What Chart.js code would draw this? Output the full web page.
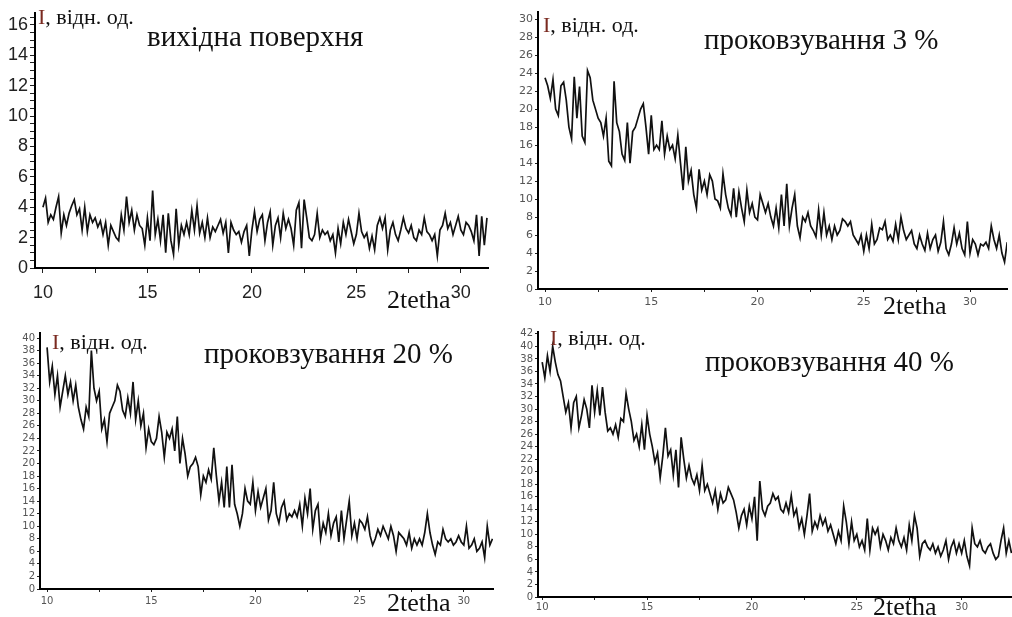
<!DOCTYPE html>
<html>
<head>
<meta charset="utf-8">
<script src="https://cdn.jsdelivr.net/npm/chart.js@4.4.1/dist/chart.umd.min.js"></script>
<style>
    body { margin: 0; background: #fff; }
    #wrap { position: relative; width: 1012px; height: 617px; overflow: hidden; background: #fff; }
    canvas { position: absolute; }
    .lbl { position: absolute; font-family: "Liberation Serif", "Times New Roman", serif; color: #111; white-space: nowrap; line-height: 1; transform: translateY(-50%); }
    .unit { font-size: 22px; }
    .unit b { font-weight: normal; color: #7a2a20; }
    .title { font-size: 29px; }
    .xname { font-size: 26px; }
</style>
</head>
<body>
<div id="wrap">
    <canvas id="chart1" width="500" height="310" style="left:0;top:0"></canvas>
    <canvas id="chart2" width="507" height="320" style="left:505px;top:0"></canvas>
    <canvas id="chart3" width="505" height="297" style="left:0;top:320px"></canvas>
    <canvas id="chart4" width="507" height="297" style="left:505px;top:320px"></canvas>

    <div class="lbl unit" style="left:38px;top:17px"><b>I</b>, відн. од.</div>
    <div class="lbl title" style="left:147px;top:36px">вихідна поверхня</div>
    <div class="lbl xname" style="left:387px;top:300px">2tetha</div>

    <div class="lbl unit" style="left:543px;top:25px"><b>I</b>, відн. од.</div>
    <div class="lbl title" style="left:704px;top:39px">проковзування 3 %</div>
    <div class="lbl xname" style="left:883px;top:306px">2tetha</div>

    <div class="lbl unit" style="left:52px;top:342px"><b>I</b>, відн. од.</div>
    <div class="lbl title" style="left:204px;top:353px">проковзування 20 %</div>
    <div class="lbl xname" style="left:387px;top:603px">2tetha</div>

    <div class="lbl unit" style="left:550px;top:338px"><b>I</b>, відн. од.</div>
    <div class="lbl title" style="left:705px;top:361px">проковзування 40 %</div>
    <div class="lbl xname" style="left:873px;top:607px">2tetha</div>
</div>

<script>
// scan grid: all four patterns start at 10 deg, 8 readings per degree
const angleStart = 10;
const angleStep = 0.125;

// intensity, original surface (вихідна поверхня)
const surfaceValues = [
    4.0, 4.6, 3.0, 3.5, 3.2, 4.0, 4.7, 2.3,
    3.5, 2.8, 3.6, 4.1, 4.5, 3.5, 3.9, 2.5,
    4.0, 2.4, 3.5, 3.0, 3.3, 2.7, 3.1, 2.2,
    3.0, 1.5, 2.8, 2.4, 2.0, 1.8, 3.5, 2.5,
    4.7, 3.0, 3.8, 2.5, 3.5, 2.8, 2.6, 1.5,
    3.3, 1.8, 5.1, 2.2, 3.2, 1.8, 3.5, 1.0,
    3.6, 1.8, 0.9, 3.9, 1.5, 2.8, 2.2, 3.0,
    2.2, 3.8, 2.5, 4.1, 2.3, 3.0, 2.0, 3.3,
    2.0, 2.7, 2.4, 2.8, 3.2, 2.3, 3.0, 1.0,
    3.0, 2.5, 2.2, 2.4, 1.7, 2.4, 2.8, 0.8,
    2.5, 3.7, 2.4, 3.2, 3.5, 1.8, 3.0, 3.7,
    1.5, 2.8, 3.3, 2.0, 3.6, 2.6, 3.2, 2.6,
    1.5, 3.8, 4.3, 1.3, 4.5, 3.3, 2.0, 1.8,
    2.2, 3.6, 2.0, 2.5, 2.2, 2.4, 1.8, 2.2,
    1.0, 2.6, 1.6, 3.0, 2.2, 3.2, 2.4, 1.6,
    2.2, 3.6, 2.4, 2.0, 2.3, 1.3, 2.1, 1.2,
    2.8, 3.3, 2.6, 3.3, 1.2, 2.5, 3.0, 2.2,
    1.8, 2.5, 3.3, 2.6, 2.3, 2.8, 2.0, 1.8,
    2.5, 2.2, 3.3, 2.4, 2.2, 1.8, 2.2, 0.8,
    2.5, 2.8, 3.6, 2.6, 3.0, 2.2, 2.8, 3.4,
    2.5, 2.2, 3.0, 2.8, 2.4, 1.8, 3.5, 0.8,
    3.4, 1.5, 3.3
];

// slip 3 %
const slip3Values = [
    23.5, 22.6, 21.2, 23.3, 20.0, 19.3, 22.6, 23.0,
    21.0, 18.0, 16.7, 23.6, 19.0, 22.5, 17.0, 16.3,
    24.3, 23.5, 21.0, 20.0, 19.0, 18.5, 17.0, 19.0,
    14.2, 13.7, 23.1, 18.5, 17.5, 15.0, 14.3, 18.5,
    14.0, 17.5, 18.0, 19.0, 20.0, 20.6, 18.0, 15.0,
    19.3, 15.5, 16.0, 15.5, 18.7, 15.0, 17.0, 15.5,
    16.0, 14.5, 17.1, 14.0, 11.0, 15.8, 12.0, 13.2,
    10.5, 9.0, 13.3, 11.0, 12.0, 10.5, 12.7, 12.0,
    10.0, 9.8, 9.0, 12.8, 10.5, 9.0, 8.2, 11.2,
    8.0, 10.8, 9.0, 7.5, 11.0, 8.5, 9.5, 8.0,
    7.7, 10.5, 9.5, 8.5, 9.5, 8.0, 7.0, 9.0,
    6.8, 10.5, 7.0, 11.7, 7.0, 9.0, 10.5, 7.0,
    5.7, 8.0, 7.5, 8.5, 7.0, 6.5, 5.8, 8.8,
    6.0, 8.5, 6.0, 7.0, 5.5, 7.0, 6.0, 6.5,
    7.8, 7.5, 7.0, 7.5, 6.0, 5.5, 5.0, 6.0,
    4.2, 6.0, 4.5, 7.2, 5.0, 5.5, 6.8, 6.6,
    7.5, 5.5, 6.0, 5.3, 7.2, 5.5, 8.0, 6.5,
    5.5, 6.0, 6.5, 5.0, 4.5, 6.0, 5.0, 4.3,
    6.2, 4.5, 5.5, 6.0, 4.2, 5.2, 7.5, 4.5,
    3.8, 5.0, 6.8, 5.0, 6.2, 4.5, 3.8, 7.5,
    4.0, 5.5, 5.0, 3.8, 5.0, 4.8, 5.2, 4.5,
    7.0, 5.5, 4.5, 6.0, 4.0, 3.0, 5.2
];

// slip 20 %
const slip20Values = [
    38.5, 33.0, 35.5, 31.0, 34.0, 29.0, 31.5, 34.0,
    31.0, 33.0, 30.0, 32.5, 29.0, 27.0, 25.5, 29.0,
    27.5, 38.0, 32.0, 30.0, 31.5, 25.5, 27.0, 23.5,
    28.0, 29.0, 30.0, 32.5, 31.5, 28.5, 27.5, 30.5,
    28.0, 33.0, 27.0, 30.0, 26.0, 28.0, 22.5, 25.5,
    23.5, 23.0, 24.0, 27.5, 25.0, 21.0, 25.0, 24.0,
    25.5, 22.0, 27.5, 20.0, 24.0, 21.5, 18.0, 19.5,
    20.0, 21.0, 19.5, 15.0, 18.0, 17.0, 19.0, 17.5,
    22.5, 18.0, 14.0, 17.0, 13.0, 19.5, 13.0, 19.8,
    13.5, 12.0, 10.0, 12.0, 16.0, 14.0, 13.5, 17.0,
    12.5, 15.5, 13.0, 14.5, 16.0, 11.0, 12.5, 17.0,
    12.0, 10.5, 13.0, 14.0, 11.0, 12.0, 11.5, 12.5,
    11.5, 13.5, 10.0, 14.5, 12.0, 16.0, 9.5, 12.5,
    13.5, 8.0, 10.5, 9.0, 12.0, 8.5, 10.5, 11.5,
    7.5, 12.5, 8.0, 11.0, 14.0, 8.5, 10.5, 8.0,
    11.0, 10.5, 9.5, 11.5, 8.5, 7.0, 8.0, 9.5,
    8.5, 10.0, 9.0, 8.0, 10.0, 8.5, 6.0, 9.0,
    8.5, 8.0, 7.0, 9.0, 6.5, 8.0, 7.0, 8.0,
    7.0, 9.0, 12.0, 9.0, 7.0, 5.5, 7.5, 7.0,
    9.5, 8.0, 7.5, 8.0, 7.0, 7.5, 8.5, 7.5,
    7.0, 10.0, 6.5, 7.0, 8.0, 6.0, 6.5, 7.5,
    5.0, 10.0, 7.0, 8.0
];

// slip 40 %
const slip40Values = [
    37.5, 35.0, 38.5, 36.0, 40.0, 37.5, 35.5, 34.5,
    32.0, 29.5, 31.0, 27.0, 31.0, 32.0, 27.0, 29.0,
    31.5, 30.0, 27.0, 33.8, 29.5, 33.0, 29.0, 33.5,
    29.5, 26.5, 27.0, 26.0, 27.5, 25.5, 28.5, 28.0,
    32.5, 30.0, 28.0, 25.0, 26.0, 24.0, 27.5, 23.5,
    29.0, 26.0, 24.0, 21.5, 23.0, 19.0, 22.5, 27.0,
    22.5, 23.5, 19.5, 23.5, 17.5, 25.5, 22.0, 19.0,
    21.0, 19.0, 18.0, 19.5, 17.0, 21.0, 17.0, 18.0,
    16.5, 15.0, 17.0, 14.0, 16.5, 15.0, 15.5, 17.5,
    16.5, 15.5, 13.5, 11.0, 13.0, 14.0, 11.5, 14.5,
    12.5, 16.0, 9.0, 18.5, 14.0, 13.0, 14.5, 15.0,
    16.5, 15.5, 16.0, 14.0, 13.5, 15.0, 13.5, 16.2,
    13.0, 14.0, 11.0, 12.5, 10.0, 13.0, 16.5, 10.5,
    12.0, 11.0, 13.0, 11.5, 12.5, 10.5, 11.5, 10.0,
    8.5, 10.5, 9.0, 14.5, 12.0, 8.5, 12.0, 9.0,
    10.0, 8.0, 9.0, 7.5, 12.5, 7.5, 11.0, 10.0,
    11.0, 8.0, 10.0, 9.0, 7.5, 9.5, 8.5, 11.0,
    9.0, 8.0, 9.5, 7.5, 11.5, 9.0, 13.0, 11.0,
    6.5, 8.5, 9.0, 8.0, 7.5, 8.5, 7.0, 8.0,
    6.5, 7.5, 9.0, 6.0, 8.0, 9.0, 7.0, 8.5,
    7.0, 9.0, 6.5, 5.0, 11.0, 8.5, 8.0, 9.0,
    7.5, 7.0, 8.0, 8.5, 7.0, 6.0, 6.5, 9.0,
    11.0, 7.0, 9.0, 7.0
];

// x tick marks every 2.5, labels every 5
const xTickStep = 2.5;
const xLabelStep = 5;

document.addEventListener('DOMContentLoaded', function() {
    drawPanel('chart1', surfaceValues, {
        xMin: 9.62, xMax: 31.3, yMax: 16.8, yStep: 0.5, yLabelStep: 2,
        yWidth: 35, xHeight: 42, padTop: 12, padRight: 12,
        font: { family: 'Liberation Sans', size: 18 }, tickColor: '#222', tickLen: 5, xPad: 9
    });
    drawPanel('chart2', slip3Values, {
        xMin: 9.67, xMax: 31.74, yMax: 30.8, yStep: 2, yLabelStep: 2,
        yWidth: 33, xHeight: 31, padTop: 12, padRight: 5,
        font: { family: 'DejaVu Sans', size: 11 }, tickColor: '#555', tickLen: 3, xPad: 4
    });
    drawPanel('chart3', slip20Values, {
        xMin: 9.66, xMax: 31.4, yMax: 40.8, yStep: 2, yLabelStep: 2,
        yWidth: 40, xHeight: 28, padTop: 13, padRight: 12,
        font: { family: 'DejaVu Sans', size: 10 }, tickColor: '#555', tickLen: 3, xPad: 3
    });
    drawPanel('chart4', slip40Values, {
        xMin: 9.8, xMax: 32.4, yMax: 42.3, yStep: 2, yLabelStep: 2,
        yWidth: 33, xHeight: 20, padTop: 12, padRight: 0,
        font: { family: 'DejaVu Sans', size: 10 }, tickColor: '#555', tickLen: 3, xPad: 1
    });
});

function isMultiple(value, step) {
    const r = value / step;
    return Math.abs(r - Math.round(r)) < 1e-6;
}

function drawPanel(canvasId, values, cfg) {
    const ctx = document.getElementById(canvasId);
    if (!ctx) return;

    const points = values.map((v, i) => ({ x: angleStart + i * angleStep, y: v }));

    new Chart(ctx, {
        type: 'line',
        data: {
            datasets: [{
                data: points,
                borderColor: '#111',
                borderWidth: 1.7,
                pointRadius: 0,
                tension: 0,
                fill: false
            }]
        },
        options: {
            responsive: false,
            animation: false,
            layout: { padding: { top: cfg.padTop, right: cfg.padRight, left: 0, bottom: 0 } },
            plugins: {
                legend: { display: false },
                tooltip: { enabled: false }
            },
            scales: {
                x: {
                    type: 'linear',
                    min: cfg.xMin,
                    max: cfg.xMax,
                    ticks: {
                        stepSize: xTickStep,
                        includeBounds: false,
                        autoSkip: false,
                        maxRotation: 0,
                        padding: cfg.xPad,
                        font: cfg.font,
                        color: cfg.tickColor,
                        callback: value => isMultiple(value, xLabelStep) ? String(value) : ''
                    },
                    grid: { drawOnChartArea: false, tickLength: cfg.tickLen, color: '#222' },
                    border: { display: true, color: '#000', width: 2 },
                    afterFit: scale => { scale.height = cfg.xHeight; }
                },
                y: {
                    min: 0,
                    max: cfg.yMax,
                    ticks: {
                        stepSize: cfg.yStep,
                        includeBounds: false,
                        autoSkip: false,
                        padding: 2,
                        font: cfg.font,
                        color: cfg.tickColor,
                        callback: value => isMultiple(value, cfg.yLabelStep) ? String(value) : ''
                    },
                    grid: { drawOnChartArea: false, tickLength: cfg.tickLen, color: '#222' },
                    border: { display: true, color: '#000', width: 2 },
                    afterFit: scale => { scale.width = cfg.yWidth; }
                }
            }
        }
    });
}
</script>
</body>
</html>
